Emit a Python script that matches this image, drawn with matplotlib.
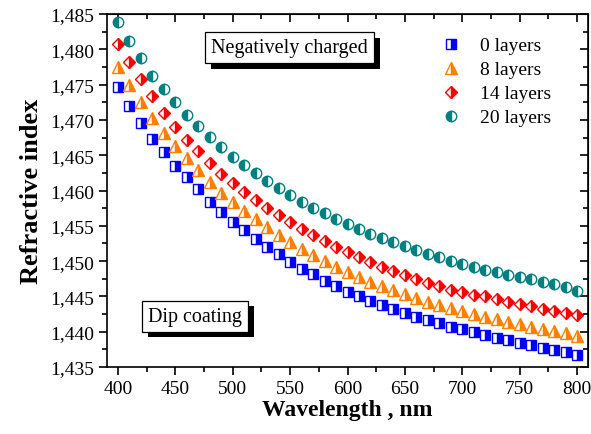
import matplotlib
matplotlib.use('agg')
import matplotlib.pyplot as plt
import matplotlib.patheffects as pe
from matplotlib.ticker import MultipleLocator, FuncFormatter
import numpy as np

plt.rcParams['font.family'] = ['Liberation Serif', 'DejaVu Serif']

# wavelengths, nm
wavelength = list(range(400, 801, 10))

# refractive index per number of layers
n_0 = [1.4747, 1.4720, 1.4696, 1.4673, 1.4655, 1.4635, 1.4619, 1.4602, 1.4584, 1.4570,
       1.4556, 1.4544, 1.4532, 1.4520, 1.4510, 1.4499, 1.4489, 1.4482, 1.4472, 1.4465,
       1.4456, 1.4451, 1.4444, 1.4438, 1.4432, 1.4427, 1.4421, 1.4417, 1.4412, 1.4407,
       1.4404, 1.4400, 1.4395, 1.4391, 1.4388, 1.4384, 1.4381, 1.4377, 1.4374, 1.4371,
       1.4367]
n_8 = [1.4775, 1.4749, 1.4725, 1.4703, 1.4681, 1.4663, 1.4646, 1.4629, 1.4612, 1.4597,
       1.4584, 1.4571, 1.4560, 1.4548, 1.4537, 1.4527, 1.4517, 1.4509, 1.4500, 1.4492,
       1.4485, 1.4478, 1.4470, 1.4465, 1.4459, 1.4454, 1.4448, 1.4442, 1.4438, 1.4434,
       1.4429, 1.4425, 1.4421, 1.4418, 1.4414, 1.4411, 1.4407, 1.4404, 1.4401, 1.4398,
       1.4394]
n_14 = [1.4808, 1.4782, 1.4758, 1.4734, 1.4710, 1.4690, 1.4672, 1.4656, 1.4639, 1.4623,
        1.4611, 1.4598, 1.4587, 1.4575, 1.4565, 1.4555, 1.4546, 1.4537, 1.4529, 1.4520,
        1.4513, 1.4506, 1.4499, 1.4492, 1.4486, 1.4480, 1.4475, 1.4469, 1.4465, 1.4459,
        1.4456, 1.4452, 1.4450, 1.4446, 1.4442, 1.4439, 1.4436, 1.4432, 1.4429, 1.4426,
        1.4423]
n_20 = [1.4839, 1.4812, 1.4788, 1.4762, 1.4744, 1.4725, 1.4707, 1.4691, 1.4676, 1.4662,
        1.4647, 1.4636, 1.4625, 1.4614, 1.4604, 1.4594, 1.4584, 1.4575, 1.4568, 1.4560,
        1.4553, 1.4546, 1.4539, 1.4533, 1.4527, 1.4521, 1.4516, 1.4510, 1.4506, 1.4500,
        1.4496, 1.4492, 1.4488, 1.4485, 1.4481, 1.4478, 1.4474, 1.4471, 1.4467, 1.4463,
        1.4458]

labels = ['0 layers', '8 layers', '14 layers', '20 layers']
colors = ['#0000ff', '#ff8000', '#ff0000', '#008080']
markers = ['s', '^', 'D', 'o']
sizes = [6.5, 8, 6.5, 7.5]
fills = ['right', 'right', 'right', 'left']

fig = plt.figure(figsize=(5.91, 4.35), dpi=100)
ax = fig.add_axes([0.181, 0.154, 0.814, 0.8115])

for ys, lab, c, m, s, fs in zip([n_0, n_8, n_14, n_20], labels, colors, markers, sizes, fills):
    ax.plot(wavelength, ys, linestyle='none', marker=m, markersize=s, fillstyle=fs,
            color=c, markerfacecoloralt='white', markeredgecolor=c,
            markeredgewidth=1.0, label=lab)

ax.set_xlim(390.5, 809.5)
ax.set_ylim(1.435, 1.485)
ax.xaxis.set_major_locator(MultipleLocator(50))
ax.xaxis.set_minor_locator(MultipleLocator(25))
ax.yaxis.set_major_locator(MultipleLocator(0.005))
ax.yaxis.set_minor_locator(MultipleLocator(0.0025))
ax.yaxis.set_major_formatter(FuncFormatter(lambda v, p: ('%.3f' % v).replace('.', ',')))

ax.tick_params(which='both', direction='out', width=1.2, labelsize=14)
ax.tick_params(which='major', length=6)
ax.tick_params(which='minor', length=3.5)
for sp in ax.spines.values():
    sp.set_linewidth(1.2)

# inward ticks on top and right, no labels
top = ax.secondary_xaxis('top')
top.xaxis.set_major_locator(MultipleLocator(50))
top.xaxis.set_minor_locator(MultipleLocator(25))
top.tick_params(which='both', direction='in', labeltop=False, width=1.2)
top.tick_params(which='major', length=6)
top.tick_params(which='minor', length=3.5)
right = ax.secondary_yaxis('right')
right.yaxis.set_major_locator(MultipleLocator(0.005))
right.yaxis.set_minor_locator(MultipleLocator(0.0025))
right.tick_params(which='both', direction='in', labelright=False, width=1.2)
right.tick_params(which='major', length=6)
right.tick_params(which='minor', length=3.5)

ax.set_xlabel('Wavelength , nm', fontsize=17, fontweight='bold', labelpad=1)
ax.set_ylabel('Refractive index', fontsize=19, fontweight='bold', labelpad=5)

ax.legend(loc='upper right', bbox_to_anchor=(0.96, 0.985), frameon=False, fontsize=14,
          handletextpad=1.0, labelspacing=0.33, handlelength=1.0)

shadow = [pe.SimplePatchShadow(offset=(4, -4), shadow_rgbFace='black', alpha=1.0), pe.Normal()]
for txt, x, y in [('Negatively charged', 0.38, 0.904), ('Dip coating', 0.183, 0.144)]:
    t = ax.text(x, y, txt, transform=ax.transAxes, fontsize=14.5, ha='center', va='center',
                bbox=dict(boxstyle='square,pad=0.3', facecolor='white', edgecolor='black', linewidth=0.9))
    t.get_bbox_patch().set_path_effects(shadow)

fig.savefig('out.png', dpi=100)
